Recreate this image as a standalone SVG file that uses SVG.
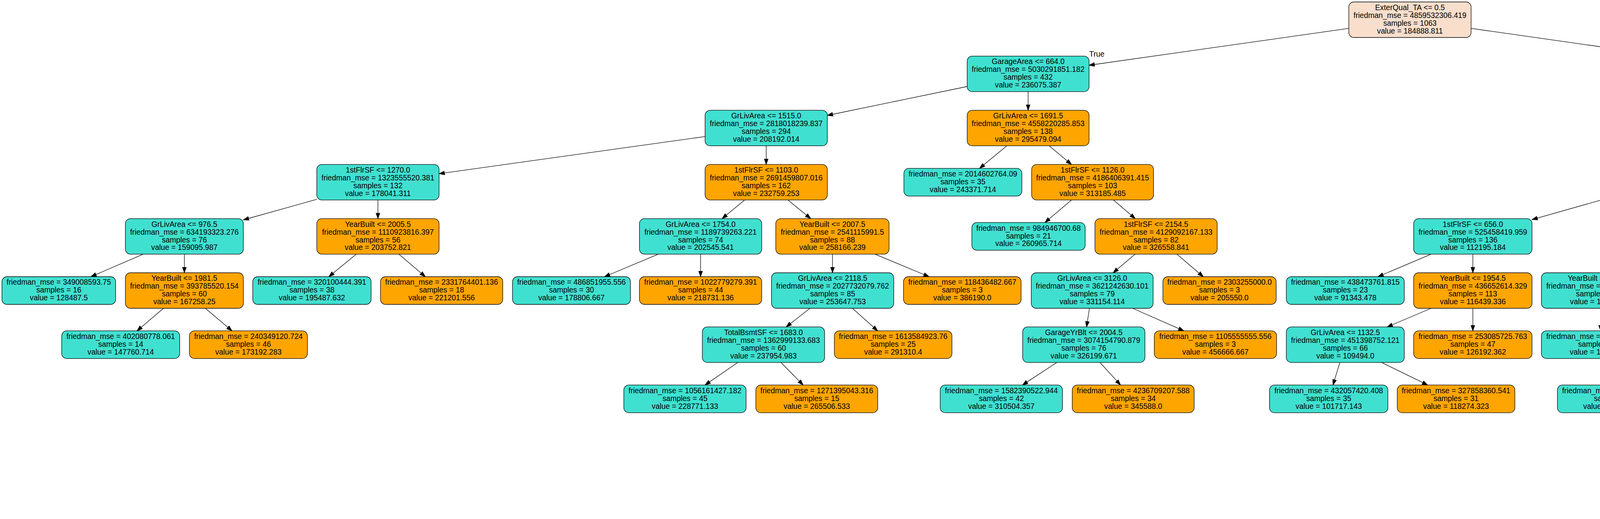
<svg xmlns="http://www.w3.org/2000/svg" width="6873" height="1329" viewBox="0 0 6873 1329">
<defs>
<marker id="ah" markerUnits="userSpaceOnUse" markerWidth="16" markerHeight="12" refX="13.8" refY="4.8" orient="auto" overflow="visible">
<path d="M0,0 L13.8,4.8 L0,9.6 z" fill="#000" stroke="#000" stroke-width="1.2"/>
</marker>
</defs>
<style>
.n rect{stroke:#000;stroke-width:1.3}
.c{fill:#40e0d0}.o{fill:#ffa500}.r{fill:#f8decb}
text{font-family:"Liberation Sans",Arial,Helvetica,sans-serif;font-size:19.3px;text-anchor:middle;fill:#000}
#edges line{stroke:#000;stroke-width:1.3;marker-end:url(#ah)}
</style>
<rect width="6873" height="1329" fill="#fff"/>
<g id="edges">
<line x1="3453" y1="72.7" x2="2788" y2="167.1"/>
<line x1="3766" y1="72.7" x2="4430" y2="167"/>
<line x1="2476" y1="221.5" x2="2118" y2="295.5"/>
<line x1="2632" y1="234.7" x2="2632" y2="282.4"/>
<line x1="4586.3" y1="234.7" x2="4586.3" y2="282.4"/>
<line x1="4743" y1="204" x2="5901" y2="313.2"/>
<line x1="1805" y1="349.7" x2="1124" y2="444.8"/>
<line x1="1961.5" y1="373.4" x2="1961.5" y2="421.1"/>
<line x1="2577.2" y1="373.4" x2="2507.7" y2="431.1"/>
<line x1="2686.1" y1="373.4" x2="2742.9" y2="421.1"/>
<line x1="4478.9" y1="373.4" x2="4366.6" y2="421.1"/>
<line x1="4693.8" y1="373.4" x2="4806.7" y2="421.1"/>
<line x1="6057" y1="373.4" x2="6057" y2="421.1"/>
<line x1="6167.7" y1="373.4" x2="6308.1" y2="431.1"/>
<line x1="811" y1="510.4" x2="623" y2="563"/>
<line x1="967.5" y1="512.1" x2="967.5" y2="559.8"/>
<line x1="1906.4" y1="512.1" x2="1848.6" y2="559.8"/>
<line x1="2017.1" y1="512.1" x2="2075.4" y2="559.8"/>
<line x1="2743.2" y1="512.1" x2="2675" y2="569.8"/>
<line x1="2850.3" y1="512.1" x2="2906.2" y2="559.8"/>
<line x1="4108" y1="509.6" x2="3922" y2="562.3"/>
<line x1="4259.5" y1="512.1" x2="4259.5" y2="559.8"/>
<line x1="4914.5" y1="512.1" x2="4914.5" y2="559.8"/>
<line x1="5054" y1="506.1" x2="5253" y2="562.5"/>
<line x1="6057" y1="512.1" x2="6057" y2="559.8"/>
<line x1="6167.7" y1="512.1" x2="6308.1" y2="569.8"/>
<line x1="366.5" y1="650.8" x2="232.8" y2="708.5"/>
<line x1="472" y1="650.8" x2="472" y2="698.5"/>
<line x1="912.1" y1="650.8" x2="841.8" y2="708.5"/>
<line x1="1021" y1="650.8" x2="1088.8" y2="708.5"/>
<line x1="1685.1" y1="650.8" x2="1547.6" y2="708.5"/>
<line x1="1793.5" y1="650.8" x2="1793.5" y2="708.5"/>
<line x1="2131.2" y1="650.8" x2="2131.2" y2="698.5"/>
<line x1="2240.1" y1="650.8" x2="2378.4" y2="708.5"/>
<line x1="2905.9" y1="650.8" x2="2849.6" y2="698.5"/>
<line x1="3012.8" y1="650.8" x2="3080.4" y2="708.5"/>
<line x1="3663.4" y1="650.8" x2="3527.6" y2="708.5"/>
<line x1="3770.5" y1="650.8" x2="3770.5" y2="698.5"/>
<line x1="4206.4" y1="650.8" x2="4150.6" y2="698.5"/>
<line x1="4313.5" y1="650.8" x2="4381.9" y2="708.5"/>
<line x1="4860.7" y1="650.8" x2="4804.3" y2="698.5"/>
<line x1="4967.8" y1="650.8" x2="5035.4" y2="708.5"/>
<line x1="5404" y1="650.8" x2="5404" y2="708.5"/>
<line x1="5511.3" y1="650.8" x2="5647.3" y2="708.5"/>
<line x1="6057" y1="650.8" x2="6057" y2="698.5"/>
<line x1="6165.9" y1="650.8" x2="6280.1" y2="698.5"/>
<line x1="418.5" y1="789.5" x2="350.7" y2="847.2"/>
<line x1="525.8" y1="789.5" x2="594" y2="847.2"/>
<line x1="2073.4" y1="789.5" x2="2012.6" y2="837.2"/>
<line x1="2182.3" y1="789.5" x2="2246.8" y2="847.2"/>
<line x1="2788.9" y1="789.5" x2="2781.6" y2="837.2"/>
<line x1="2899.5" y1="789.5" x2="3030.7" y2="847.2"/>
<line x1="3663.4" y1="789.5" x2="3551.1" y2="837.2"/>
<line x1="3770.5" y1="789.5" x2="3770.5" y2="847.2"/>
<line x1="4097.5" y1="789.5" x2="4097.5" y2="847.2"/>
<line x1="4204.6" y1="789.5" x2="4316.9" y2="837.2"/>
<line x1="4750.5" y1="789.5" x2="4750.5" y2="847.2"/>
<line x1="4857.6" y1="789.5" x2="4969.9" y2="837.2"/>
<line x1="5948.1" y1="789.5" x2="5810" y2="847.2"/>
<line x1="6057" y1="789.5" x2="6057" y2="837.2"/>
<line x1="6389" y1="789.5" x2="6389" y2="847.2"/>
<line x1="6496.3" y1="789.5" x2="6632.3" y2="847.2"/>
<line x1="1888.6" y1="928.2" x2="1804.9" y2="985.9"/>
<line x1="1999.3" y1="928.2" x2="2056.1" y2="985.9"/>
<line x1="2705.3" y1="928.2" x2="2617.5" y2="985.9"/>
<line x1="2816" y1="928.2" x2="2868.6" y2="985.9"/>
<line x1="3430.1" y1="928.2" x2="3412.4" y2="985.9"/>
<line x1="3537" y1="928.2" x2="3654.9" y2="985.9"/>
<line x1="4330.2" y1="928.2" x2="4211.2" y2="985.9"/>
<line x1="4437.5" y1="928.2" x2="4454.5" y2="985.9"/>
<line x1="5025.5" y1="928.2" x2="4960.2" y2="985.9"/>
<line x1="5128.5" y1="928.2" x2="5193.8" y2="985.9"/>
<line x1="6002.2" y1="928.2" x2="5944.8" y2="975.9"/>
<line x1="6111.3" y1="928.2" x2="6180.1" y2="985.9"/>
<line x1="5836.2" y1="1066.9" x2="5779.8" y2="1114.6"/>
<line x1="5943.6" y1="1066.9" x2="6011.7" y2="1124.6"/>
<line x1="5668.6" y1="1205.6" x2="5608.3" y2="1254.5"/>
<line x1="5784" y1="1205.6" x2="5844.8" y2="1254.5"/>
<text x="2808" y="145">True</text>
<text x="4409.5" y="145">False</text>
</g>
<g id="n0" class="n" transform="translate(3609.5,50.5)"><rect class="r" x="-156.5" y="-45.5" width="313" height="91" rx="13"/><text y="-24.8">ExterQual_TA &lt;= 0.5</text><text y="-4.8">friedman_mse = 4859532306.419</text><text y="15.2">samples = 1063</text><text y="35.2">value = 184888.811</text></g>
<g id="n1" class="n" transform="translate(2632,189.2)"><rect class="c" x="-156" y="-45.5" width="312" height="91" rx="13"/><text y="-24.8">GarageArea &lt;= 664.0</text><text y="-4.8">friedman_mse = 5030291851.182</text><text y="15.2">samples = 432</text><text y="35.2">value = 236075.387</text></g>
<g id="n2" class="n" transform="translate(4586.5,189.2)"><rect class="o" x="-156.5" y="-45.5" width="313" height="91" rx="13"/><text y="-24.8">GrLivArea &lt;= 1473.5</text><text y="-4.8">friedman_mse = 1720792707.833</text><text y="15.2">samples = 631</text><text y="35.2">value = 149845.07</text></g>
<g id="n3" class="n" transform="translate(1961.5,327.9)"><rect class="c" x="-156.5" y="-45.5" width="313" height="91" rx="13"/><text y="-24.8">GrLivArea &lt;= 1515.0</text><text y="-4.8">friedman_mse = 2818018239.837</text><text y="15.2">samples = 294</text><text y="35.2">value = 208192.014</text></g>
<g id="n4" class="n" transform="translate(2632,327.9)"><rect class="o" x="-156" y="-45.5" width="312" height="91" rx="13"/><text y="-24.8">GrLivArea &lt;= 1691.5</text><text y="-4.8">friedman_mse = 4558220285.853</text><text y="15.2">samples = 138</text><text y="35.2">value = 295479.094</text></g>
<g id="n5" class="n" transform="translate(4586,327.9)"><rect class="c" x="-151" y="-45.5" width="302" height="91" rx="13"/><text y="-24.8">TotalBsmtSF &lt;= 1011.0</text><text y="-4.8">friedman_mse = 779076190.081</text><text y="15.2">samples = 406</text><text y="35.2">value = 133017.355</text></g>
<g id="n6" class="n" transform="translate(6057,327.9)"><rect class="o" x="-156" y="-45.5" width="312" height="91" rx="13"/><text y="-24.8">GrLivArea &lt;= 2575.5</text><text y="-4.8">friedman_mse = 1987086110.011</text><text y="15.2">samples = 225</text><text y="35.2">value = 180209.747</text></g>
<g id="n7" class="n" transform="translate(967.5,466.6)"><rect class="c" x="-156.5" y="-45.5" width="313" height="91" rx="13"/><text y="-24.8">1stFlrSF &lt;= 1270.0</text><text y="-4.8">friedman_mse = 1323555520.381</text><text y="15.2">samples = 132</text><text y="35.2">value = 178041.311</text></g>
<g id="n8" class="n" transform="translate(1961.5,466.6)"><rect class="o" x="-156.5" y="-45.5" width="313" height="91" rx="13"/><text y="-24.8">1stFlrSF &lt;= 1103.0</text><text y="-4.8">friedman_mse = 2691459807.016</text><text y="15.2">samples = 162</text><text y="35.2">value = 232759.253</text></g>
<g id="n9" class="n" transform="translate(2465,466.6)"><rect class="c" x="-151" y="-35.5" width="302" height="71" rx="13"/><text y="-14.8">friedman_mse = 2014602764.09</text><text y="5.2">samples = 35</text><text y="25.2">value = 243371.714</text></g>
<g id="n10" class="n" transform="translate(2797,466.6)"><rect class="o" x="-156" y="-45.5" width="312" height="91" rx="13"/><text y="-24.8">1stFlrSF &lt;= 1126.0</text><text y="-4.8">friedman_mse = 4186406391.415</text><text y="15.2">samples = 103</text><text y="35.2">value = 313185.485</text></g>
<g id="n11" class="n" transform="translate(4259.5,466.6)"><rect class="c" x="-151.5" y="-45.5" width="303" height="91" rx="13"/><text y="-24.8">GarageArea &lt;= 375.0</text><text y="-4.8">friedman_mse = 606756223.532</text><text y="15.2">samples = 255</text><text y="35.2">value = 121571.212</text></g>
<g id="n12" class="n" transform="translate(4914.5,466.6)"><rect class="o" x="-139.5" y="-45.5" width="279" height="91" rx="13"/><text y="-24.8">GrLivArea &lt;= 1239.0</text><text y="-4.8">friedman_mse = 475198354.3</text><text y="15.2">samples = 151</text><text y="35.2">value = 152346.934</text></g>
<g id="n13" class="n" transform="translate(6057,466.6)"><rect class="c" x="-156" y="-45.5" width="312" height="91" rx="13"/><text y="-24.8">1stFlrSF &lt;= 1783.5</text><text y="-4.8">friedman_mse = 1539414329.273</text><text y="15.2">samples = 214</text><text y="35.2">value = 175852.57</text></g>
<g id="n14" class="n" transform="translate(6394.5,466.6)"><rect class="o" x="-156.5" y="-35.5" width="313" height="71" rx="13"/><text y="-14.8">friedman_mse = 3141567222.231</text><text y="5.2">samples = 11</text><text y="25.2">value = 264976.636</text></g>
<g id="n15" class="n" transform="translate(472,605.3)"><rect class="c" x="-151" y="-45.5" width="302" height="91" rx="13"/><text y="-24.8">GrLivArea &lt;= 976.5</text><text y="-4.8">friedman_mse = 634193323.276</text><text y="15.2">samples = 76</text><text y="35.2">value = 159095.987</text></g>
<g id="n16" class="n" transform="translate(967.5,605.3)"><rect class="o" x="-156.5" y="-45.5" width="313" height="91" rx="13"/><text y="-24.8">YearBuilt &lt;= 2005.5</text><text y="-4.8">friedman_mse = 1110923816.397</text><text y="15.2">samples = 56</text><text y="35.2">value = 203752.821</text></g>
<g id="n17" class="n" transform="translate(1793.5,605.3)"><rect class="c" x="-156.5" y="-45.5" width="313" height="91" rx="13"/><text y="-24.8">GrLivArea &lt;= 1754.0</text><text y="-4.8">friedman_mse = 1189739263.221</text><text y="15.2">samples = 74</text><text y="35.2">value = 202545.541</text></g>
<g id="n18" class="n" transform="translate(2131,605.3)"><rect class="o" x="-145" y="-45.5" width="290" height="91" rx="13"/><text y="-24.8">YearBuilt &lt;= 2007.5</text><text y="-4.8">friedman_mse = 2541115991.5</text><text y="15.2">samples = 88</text><text y="35.2">value = 258166.239</text></g>
<g id="n19" class="n" transform="translate(2633,605.3)"><rect class="c" x="-145" y="-35.5" width="290" height="71" rx="13"/><text y="-14.8">friedman_mse = 984946700.68</text><text y="5.2">samples = 21</text><text y="25.2">value = 260965.714</text></g>
<g id="n20" class="n" transform="translate(2959.5,605.3)"><rect class="o" x="-156.5" y="-45.5" width="313" height="91" rx="13"/><text y="-24.8">1stFlrSF &lt;= 2154.5</text><text y="-4.8">friedman_mse = 4129092167.133</text><text y="15.2">samples = 82</text><text y="35.2">value = 326558.841</text></g>
<g id="n21" class="n" transform="translate(3770.5,605.3)"><rect class="c" x="-151.5" y="-45.5" width="303" height="91" rx="13"/><text y="-24.8">1stFlrSF &lt;= 656.0</text><text y="-4.8">friedman_mse = 525458419.959</text><text y="15.2">samples = 136</text><text y="35.2">value = 112195.184</text></g>
<g id="n22" class="n" transform="translate(4259.5,605.3)"><rect class="o" x="-151.5" y="-45.5" width="303" height="91" rx="13"/><text y="-24.8">GrLivArea &lt;= 1388.5</text><text y="-4.8">friedman_mse = 484378448.136</text><text y="15.2">samples = 119</text><text y="35.2">value = 132286.672</text></g>
<g id="n23" class="n" transform="translate(4914.5,605.3)"><rect class="c" x="-151.5" y="-45.5" width="303" height="91" rx="13"/><text y="-24.8">YearBuilt &lt;= 1976.5</text><text y="-4.8">friedman_mse = 263646542.786</text><text y="15.2">samples = 97</text><text y="35.2">value = 144237.495</text></g>
<g id="n24" class="n" transform="translate(5404,605.3)"><rect class="o" x="-151" y="-45.5" width="302" height="91" rx="13"/><text y="-24.8">BsmtExposure_Gd &lt;= 0.5</text><text y="-4.8">friedman_mse = 524882075.617</text><text y="15.2">samples = 54</text><text y="35.2">value = 166913.889</text></g>
<g id="n25" class="n" transform="translate(6057,605.3)"><rect class="c" x="-156" y="-45.5" width="312" height="91" rx="13"/><text y="-24.8">YearBuilt &lt;= 1976.5</text><text y="-4.8">friedman_mse = 1102762151.807</text><text y="15.2">samples = 197</text><text y="35.2">value = 171018.02</text></g>
<g id="n26" class="n" transform="translate(6394.5,605.3)"><rect class="o" x="-156.5" y="-35.5" width="313" height="71" rx="13"/><text y="-14.8">friedman_mse = 3189914740.484</text><text y="5.2">samples = 17</text><text y="25.2">value = 231876.471</text></g>
<g id="n27" class="n" transform="translate(150.5,744)"><rect class="c" x="-145.5" y="-35.5" width="291" height="71" rx="13"/><text y="-14.8">friedman_mse = 349008593.75</text><text y="5.2">samples = 16</text><text y="25.2">value = 128487.5</text></g>
<g id="n28" class="n" transform="translate(472,744)"><rect class="o" x="-151" y="-45.5" width="302" height="91" rx="13"/><text y="-24.8">YearBuilt &lt;= 1981.5</text><text y="-4.8">friedman_mse = 393785520.154</text><text y="15.2">samples = 60</text><text y="35.2">value = 167258.25</text></g>
<g id="n29" class="n" transform="translate(798.5,744)"><rect class="c" x="-151.5" y="-35.5" width="303" height="71" rx="13"/><text y="-14.8">friedman_mse = 320100444.391</text><text y="5.2">samples = 38</text><text y="25.2">value = 195487.632</text></g>
<g id="n30" class="n" transform="translate(1130.5,744)"><rect class="o" x="-156.5" y="-35.5" width="313" height="71" rx="13"/><text y="-14.8">friedman_mse = 2331764401.136</text><text y="5.2">samples = 18</text><text y="25.2">value = 221201.556</text></g>
<g id="n31" class="n" transform="translate(1463,744)"><rect class="c" x="-151" y="-35.5" width="302" height="71" rx="13"/><text y="-14.8">friedman_mse = 486851955.556</text><text y="5.2">samples = 30</text><text y="25.2">value = 178806.667</text></g>
<g id="n32" class="n" transform="translate(1793.5,744)"><rect class="o" x="-156.5" y="-35.5" width="313" height="71" rx="13"/><text y="-14.8">friedman_mse = 1022779279.391</text><text y="5.2">samples = 44</text><text y="25.2">value = 218731.136</text></g>
<g id="n33" class="n" transform="translate(2131.5,744)"><rect class="c" x="-156.5" y="-45.5" width="313" height="91" rx="13"/><text y="-24.8">GrLivArea &lt;= 2118.5</text><text y="-4.8">friedman_mse = 2027732079.762</text><text y="15.2">samples = 85</text><text y="35.2">value = 253647.753</text></g>
<g id="n34" class="n" transform="translate(2463.5,744)"><rect class="o" x="-150.5" y="-35.5" width="301" height="71" rx="13"/><text y="-14.8">friedman_mse = 118436482.667</text><text y="5.2">samples = 3</text><text y="25.2">value = 386190.0</text></g>
<g id="n35" class="n" transform="translate(2796,744)"><rect class="c" x="-156" y="-45.5" width="312" height="91" rx="13"/><text y="-24.8">GrLivArea &lt;= 3126.0</text><text y="-4.8">friedman_mse = 3621242630.101</text><text y="15.2">samples = 79</text><text y="35.2">value = 331154.114</text></g>
<g id="n36" class="n" transform="translate(3122,744)"><rect class="o" x="-145" y="-35.5" width="290" height="71" rx="13"/><text y="-14.8">friedman_mse = 2303255000.0</text><text y="5.2">samples = 3</text><text y="25.2">value = 205550.0</text></g>
<g id="n37" class="n" transform="translate(3444,744)"><rect class="c" x="-151" y="-35.5" width="302" height="71" rx="13"/><text y="-14.8">friedman_mse = 438473761.815</text><text y="5.2">samples = 23</text><text y="25.2">value = 91343.478</text></g>
<g id="n38" class="n" transform="translate(3770.5,744)"><rect class="o" x="-151.5" y="-45.5" width="303" height="91" rx="13"/><text y="-24.8">YearBuilt &lt;= 1954.5</text><text y="-4.8">friedman_mse = 436652614.329</text><text y="15.2">samples = 113</text><text y="35.2">value = 116439.336</text></g>
<g id="n39" class="n" transform="translate(4097.5,744)"><rect class="c" x="-151.5" y="-45.5" width="303" height="91" rx="13"/><text y="-24.8">YearBuilt &lt;= 1940.5</text><text y="-4.8">friedman_mse = 339779839.532</text><text y="15.2">samples = 101</text><text y="35.2">value = 127111.95</text></g>
<g id="n40" class="n" transform="translate(4424,744)"><rect class="o" x="-151" y="-35.5" width="302" height="71" rx="13"/><text y="-14.8">friedman_mse = 302398658.127</text><text y="5.2">samples = 18</text><text y="25.2">value = 161322.611</text></g>
<g id="n41" class="n" transform="translate(4750.5,744)"><rect class="c" x="-150.5" y="-45.5" width="301" height="91" rx="13"/><text y="-24.8">GarageType_Attchd &lt;= 0.5</text><text y="-4.8">friedman_mse = 213413106.738</text><text y="15.2">samples = 74</text><text y="35.2">value = 140185.135</text></g>
<g id="n42" class="n" transform="translate(5077,744)"><rect class="o" x="-151" y="-35.5" width="302" height="71" rx="13"/><text y="-14.8">friedman_mse = 202442242.945</text><text y="5.2">samples = 23</text><text y="25.2">value = 157275.522</text></g>
<g id="n43" class="n" transform="translate(5404,744)"><rect class="c" x="-151" y="-35.5" width="302" height="71" rx="13"/><text y="-14.8">friedman_mse = 307511722.553</text><text y="5.2">samples = 43</text><text y="25.2">value = 161654.651</text></g>
<g id="n44" class="n" transform="translate(5731,744)"><rect class="o" x="-151" y="-35.5" width="302" height="71" rx="13"/><text y="-14.8">friedman_mse = 843812892.562</text><text y="5.2">samples = 11</text><text y="25.2">value = 187472.727</text></g>
<g id="n45" class="n" transform="translate(6057,744)"><rect class="c" x="-151" y="-45.5" width="302" height="91" rx="13"/><text y="-24.8">MSZoning_RL &lt;= 0.5</text><text y="-4.8">friedman_mse = 994173985.972</text><text y="15.2">samples = 145</text><text y="35.2">value = 162112.014</text></g>
<g id="n46" class="n" transform="translate(6389,744)"><rect class="o" x="-151" y="-45.5" width="302" height="91" rx="13"/><text y="-24.8">GarageArea &lt;= 479.0</text><text y="-4.8">friedman_mse = 567653437.686</text><text y="15.2">samples = 52</text><text y="35.2">value = 195852.077</text></g>
<g id="n47" class="n" transform="translate(309,882.7)"><rect class="c" x="-151" y="-35.5" width="302" height="71" rx="13"/><text y="-14.8">friedman_mse = 402080778.061</text><text y="5.2">samples = 14</text><text y="25.2">value = 147760.714</text></g>
<g id="n48" class="n" transform="translate(636,882.7)"><rect class="o" x="-151" y="-35.5" width="302" height="71" rx="13"/><text y="-14.8">friedman_mse = 240349120.724</text><text y="5.2">samples = 46</text><text y="25.2">value = 173192.283</text></g>
<g id="n49" class="n" transform="translate(1954.5,882.7)"><rect class="c" x="-156.5" y="-45.5" width="313" height="91" rx="13"/><text y="-24.8">TotalBsmtSF &lt;= 1683.0</text><text y="-4.8">friedman_mse = 1362999133.683</text><text y="15.2">samples = 60</text><text y="35.2">value = 237954.983</text></g>
<g id="n50" class="n" transform="translate(2286.5,882.7)"><rect class="o" x="-150.5" y="-35.5" width="301" height="71" rx="13"/><text y="-14.8">friedman_mse = 1613584923.76</text><text y="5.2">samples = 25</text><text y="25.2">value = 291310.4</text></g>
<g id="n51" class="n" transform="translate(2774.5,882.7)"><rect class="c" x="-156.5" y="-45.5" width="313" height="91" rx="13"/><text y="-24.8">GarageYrBlt &lt;= 2004.5</text><text y="-4.8">friedman_mse = 3074154790.879</text><text y="15.2">samples = 76</text><text y="35.2">value = 326199.671</text></g>
<g id="n52" class="n" transform="translate(3111.5,882.7)"><rect class="o" x="-156.5" y="-35.5" width="313" height="71" rx="13"/><text y="-14.8">friedman_mse = 1105555555.556</text><text y="5.2">samples = 3</text><text y="25.2">value = 456666.667</text></g>
<g id="n53" class="n" transform="translate(3444,882.7)"><rect class="c" x="-151" y="-45.5" width="302" height="91" rx="13"/><text y="-24.8">GrLivArea &lt;= 1132.5</text><text y="-4.8">friedman_mse = 451398752.121</text><text y="15.2">samples = 66</text><text y="35.2">value = 109494.0</text></g>
<g id="n54" class="n" transform="translate(3770.5,882.7)"><rect class="o" x="-151.5" y="-35.5" width="303" height="71" rx="13"/><text y="-14.8">friedman_mse = 253085725.763</text><text y="5.2">samples = 47</text><text y="25.2">value = 126192.362</text></g>
<g id="n55" class="n" transform="translate(4097.5,882.7)"><rect class="c" x="-151.5" y="-35.5" width="303" height="71" rx="13"/><text y="-14.8">friedman_mse = 380647781.973</text><text y="5.2">samples = 28</text><text y="25.2">value = 113780.25</text></g>
<g id="n56" class="n" transform="translate(4424,882.7)"><rect class="o" x="-151" y="-45.5" width="302" height="91" rx="13"/><text y="-24.8">1stFlrSF &lt;= 975.0</text><text y="-4.8">friedman_mse = 229784249.428</text><text y="15.2">samples = 73</text><text y="35.2">value = 132225.479</text></g>
<g id="n57" class="n" transform="translate(4750.5,882.7)"><rect class="c" x="-150.5" y="-35.5" width="301" height="71" rx="13"/><text y="-14.8">friedman_mse = 182795898.438</text><text y="5.2">samples = 16</text><text y="25.2">value = 127431.25</text></g>
<g id="n58" class="n" transform="translate(5077,882.7)"><rect class="o" x="-151" y="-45.5" width="302" height="91" rx="13"/><text y="-24.8">YearBuilt &lt;= 1961.5</text><text y="-4.8">friedman_mse = 164608544.144</text><text y="15.2">samples = 58</text><text y="35.2">value = 143703.448</text></g>
<g id="n59" class="n" transform="translate(5725,882.7)"><rect class="c" x="-151" y="-35.5" width="302" height="71" rx="13"/><text y="-14.8">friedman_mse = 300714906.122</text><text y="5.2">samples = 35</text><text y="25.2">value = 140577.143</text></g>
<g id="n60" class="n" transform="translate(6057,882.7)"><rect class="o" x="-156" y="-45.5" width="312" height="91" rx="13"/><text y="-24.8">GrLivArea &lt;= 1983.5</text><text y="-4.8">friedman_mse = 1020313062.527</text><text y="15.2">samples = 110</text><text y="35.2">value = 168964.018</text></g>
<g id="n61" class="n" transform="translate(6389,882.7)"><rect class="c" x="-151" y="-35.5" width="302" height="71" rx="13"/><text y="-14.8">friedman_mse = 236424914.934</text><text y="5.2">samples = 23</text><text y="25.2">value = 178817.391</text></g>
<g id="n62" class="n" transform="translate(6716,882.7)"><rect class="o" x="-151" y="-35.5" width="302" height="71" rx="13"/><text y="-14.8">friedman_mse = 417681416.019</text><text y="5.2">samples = 29</text><text y="25.2">value = 209362.345</text></g>
<g id="n63" class="n" transform="translate(1753.5,1021.4)"><rect class="c" x="-156.5" y="-35.5" width="313" height="71" rx="13"/><text y="-14.8">friedman_mse = 1056161427.182</text><text y="5.2">samples = 45</text><text y="25.2">value = 228771.133</text></g>
<g id="n64" class="n" transform="translate(2091,1021.4)"><rect class="o" x="-156" y="-35.5" width="312" height="71" rx="13"/><text y="-14.8">friedman_mse = 1271395043.316</text><text y="5.2">samples = 15</text><text y="25.2">value = 265506.533</text></g>
<g id="n65" class="n" transform="translate(2563.5,1021.4)"><rect class="c" x="-156.5" y="-35.5" width="313" height="71" rx="13"/><text y="-14.8">friedman_mse = 1582390522.944</text><text y="5.2">samples = 42</text><text y="25.2">value = 310504.357</text></g>
<g id="n66" class="n" transform="translate(2901,1021.4)"><rect class="o" x="-156" y="-35.5" width="312" height="71" rx="13"/><text y="-14.8">friedman_mse = 4236709207.588</text><text y="5.2">samples = 34</text><text y="25.2">value = 345588.0</text></g>
<g id="n67" class="n" transform="translate(3401.5,1021.4)"><rect class="c" x="-151.5" y="-35.5" width="303" height="71" rx="13"/><text y="-14.8">friedman_mse = 432057420.408</text><text y="5.2">samples = 35</text><text y="25.2">value = 101717.143</text></g>
<g id="n68" class="n" transform="translate(3727.5,1021.4)"><rect class="o" x="-150.5" y="-35.5" width="301" height="71" rx="13"/><text y="-14.8">friedman_mse = 327858360.541</text><text y="5.2">samples = 31</text><text y="25.2">value = 118274.323</text></g>
<g id="n69" class="n" transform="translate(4138,1021.4)"><rect class="c" x="-151" y="-35.5" width="302" height="71" rx="13"/><text y="-14.8">friedman_mse = 172127776.188</text><text y="5.2">samples = 47</text><text y="25.2">value = 127340.638</text></g>
<g id="n70" class="n" transform="translate(4465,1021.4)"><rect class="o" x="-151" y="-35.5" width="302" height="71" rx="13"/><text y="-14.8">friedman_mse = 212900832.101</text><text y="5.2">samples = 26</text><text y="25.2">value = 141055.769</text></g>
<g id="n71" class="n" transform="translate(4920,1021.4)"><rect class="c" x="-145" y="-35.5" width="290" height="71" rx="13"/><text y="-14.8">friedman_mse = 74516589.506</text><text y="5.2">samples = 27</text><text y="25.2">value = 137455.556</text></g>
<g id="n72" class="n" transform="translate(5234,1021.4)"><rect class="o" x="-145" y="-35.5" width="290" height="71" rx="13"/><text y="-14.8">friedman_mse = 179464250.78</text><text y="5.2">samples = 31</text><text y="25.2">value = 149145.161</text></g>
<g id="n73" class="n" transform="translate(5890,1021.4)"><rect class="c" x="-151" y="-45.5" width="302" height="91" rx="13"/><text y="-24.8">BsmtExposure_Gd &lt;= 0.5</text><text y="-4.8">friedman_mse = 735292441.309</text><text y="15.2">samples = 86</text><text y="35.2">value = 161615.605</text></g>
<g id="n74" class="n" transform="translate(6222.5,1021.4)"><rect class="o" x="-156.5" y="-35.5" width="313" height="71" rx="13"/><text y="-14.8">friedman_mse = 1154775399.306</text><text y="5.2">samples = 24</text><text y="25.2">value = 195295.833</text></g>
<g id="n75" class="n" transform="translate(5726,1160.1)"><rect class="c" x="-151" y="-45.5" width="302" height="91" rx="13"/><text y="-24.8">YearBuilt &lt;= 1966.0</text><text y="-4.8">friedman_mse = 530198644.944</text><text y="15.2">samples = 77</text><text y="35.2">value = 156916.13</text></g>
<g id="n76" class="n" transform="translate(6053.5,1160.1)"><rect class="o" x="-150.5" y="-35.5" width="301" height="71" rx="13"/><text y="-14.8">friedman_mse = 684461728.395</text><text y="5.2">samples = 9</text><text y="25.2">value = 201822.222</text></g>
<g id="n77" class="n" transform="translate(5563.5,1290)"><rect class="c" x="-150.5" y="-35.5" width="301" height="71" rx="13"/><text y="-14.8">friedman_mse = 489815887.571</text><text y="5.2">samples = 54</text><text y="25.2">value = 151454.389</text></g>
<g id="n78" class="n" transform="translate(5890,1290)"><rect class="o" x="-151" y="-35.5" width="302" height="71" rx="13"/><text y="-14.8">friedman_mse = 390538322.401</text><text y="5.2">samples = 23</text><text y="25.2">value = 169739.348</text></g>
</svg>
